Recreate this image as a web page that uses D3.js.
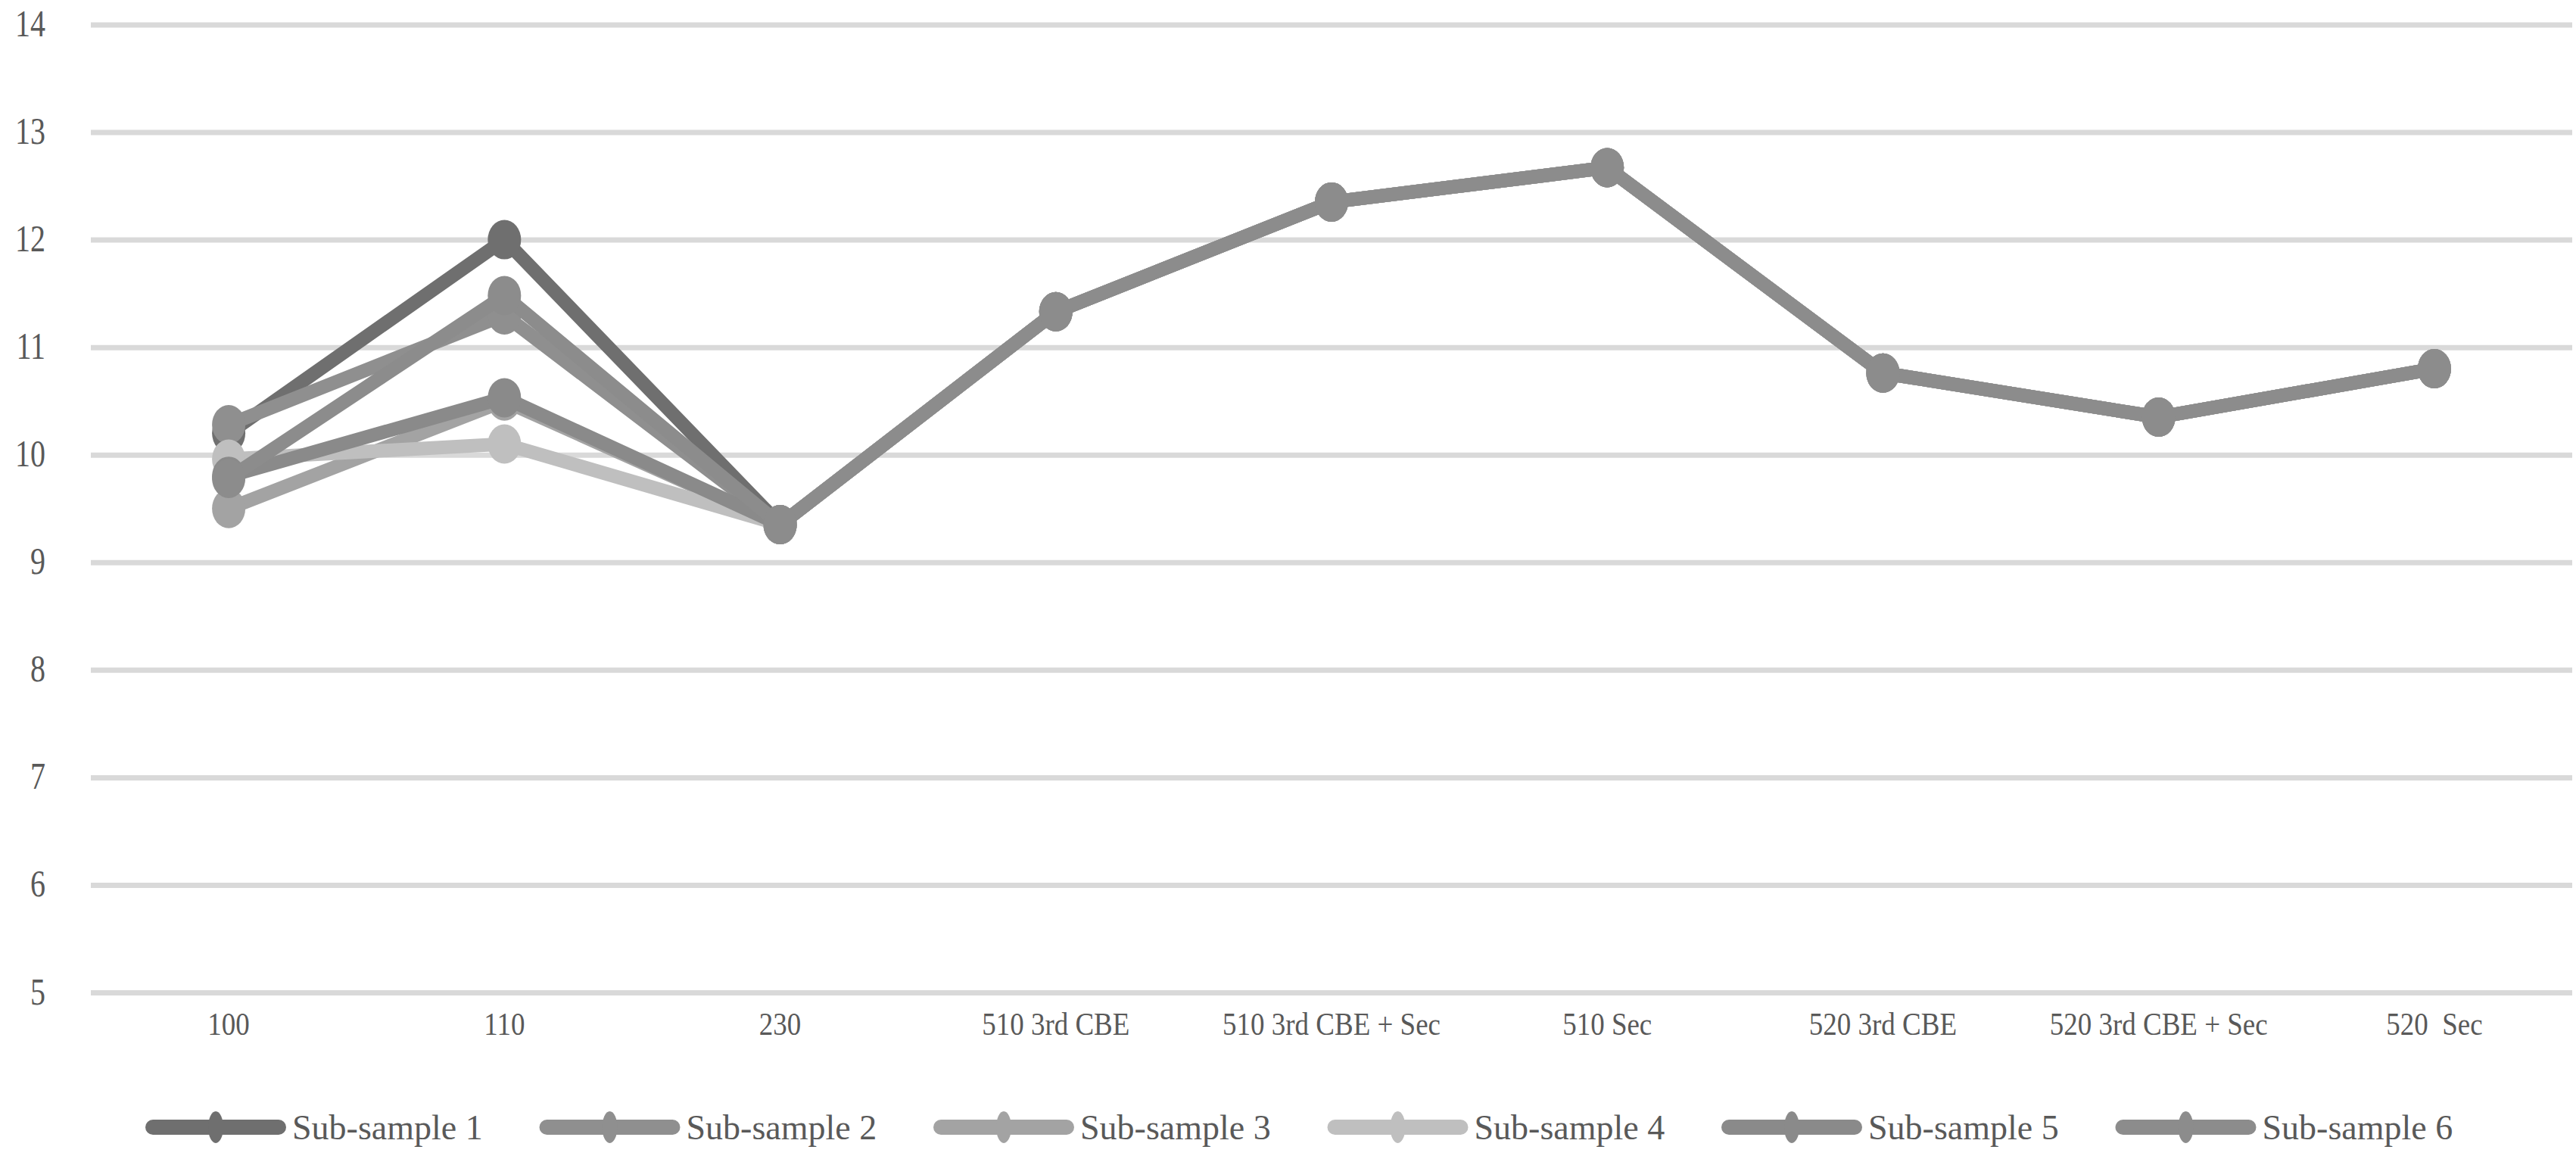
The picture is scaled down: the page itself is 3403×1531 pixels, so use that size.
<!DOCTYPE html>
<html>
<head>
<meta charset="utf-8">
<script src="https://cdn.jsdelivr.net/npm/d3@7"></script>
<style>
  html, body { margin: 0; padding: 0; background: #ffffff; }
  svg { display: block; }
  text { font-family: "Liberation Serif", "Times New Roman", serif; fill: #595959; }
</style>
</head>
<body>
<svg id="chart" width="3403" height="1531"></svg>
<script>
const categories = ["100", "110", "230", "510 3rd CBE", "510 3rd CBE + Sec", "510 Sec", "520 3rd CBE", "520 3rd CBE + Sec", "520  Sec"];
const seriesNames = ["Sub-sample 1", "Sub-sample 2", "Sub-sample 3", "Sub-sample 4", "Sub-sample 5", "Sub-sample 6"];
const sub1 = [10.20, 12.00, 9.35, 11.33, 12.35, 12.67, 10.76, 10.35, 10.80];
const sub2 = [10.28, 11.30, 9.35, 11.33, 12.35, 12.67, 10.76, 10.35, 10.80];
const sub3 = [9.50, 10.50, 9.35, 11.33, 12.35, 12.67, 10.76, 10.35, 10.80];
const sub4 = [9.96, 10.10, 9.35, 11.33, 12.35, 12.67, 10.76, 10.35, 10.80];
const sub5 = [9.80, 10.53, 9.35, 11.33, 12.35, 12.67, 10.76, 10.35, 10.80];
const sub6 = [9.78, 11.48, 9.35, 11.33, 12.35, 12.67, 10.76, 10.35, 10.80];
const seriesColors = ["#6f6f6f", "#8f8f8f", "#a3a3a3", "#bfbfbf", "#8a8a8a", "#8c8c8c"];
const yTicks = [5, 6, 7, 8, 9, 10, 11, 12, 13, 14];

const seriesValues = [sub1, sub2, sub3, sub4, sub5, sub6];
const series = seriesNames.map((name, i) => ({ name, color: seriesColors[i], values: seriesValues[i] }));

const svg = d3.select("#chart");
const plot = { left: 120, right: 3398, top: 32.5, bottom: 1311 };

const x = d3.scaleBand().domain(categories).range([plot.left, plot.right]).padding(0);
const y = d3.scaleLinear().domain([5, 14]).range([plot.bottom, plot.top]);
const cx = c => x(c) + x.bandwidth() / 2;

// gridlines
const grid = svg.append("g")
  .attr("transform", `translate(${plot.left},0)`)
  .call(d3.axisLeft(y).tickValues(yTicks).tickSize(-(plot.right - plot.left)).tickFormat(""));
grid.select(".domain").remove();
grid.selectAll(".tick line").attr("stroke", "#d9d9d9").attr("stroke-width", 7);

// y labels
const yAxis = svg.append("g")
  .attr("transform", `translate(60,0)`)
  .call(d3.axisLeft(y).tickValues(yTicks).tickSize(0).tickPadding(0).tickFormat(d3.format("d")));
yAxis.select(".domain").remove();
yAxis.selectAll("text")
  .attr("font-size", 40)
  .attr("fill", "#595959")
  .attr("font-family", "Liberation Serif, serif")
  .attr("dy", "0.3em")
  .attr("transform", "scale(1,1.25)");

// x labels
const xAxis = svg.append("g")
  .attr("transform", `translate(0,${1352})`)
  .call(d3.axisBottom(x).tickSize(0).tickPadding(0));
xAxis.select(".domain").remove();
xAxis.selectAll("text")
  .attr("font-size", 37)
  .attr("fill", "#595959")
  .attr("font-family", "Liberation Serif, serif")
  .attr("dy", "0.35em")
  .style("white-space", "pre")
  .attr("transform", "scale(1,1.15)");

// lines
const line = d3.line()
  .x((d, i) => cx(categories[i]))
  .y(d => y(d));

const sg = svg.append("g");
series.forEach(s => {
  const g = sg.append("g");
  g.append("path")
    .datum(s.values)
    .attr("d", line)
    .attr("fill", "none")
    .attr("stroke", s.color)
    .attr("stroke-width", 18)
    .attr("stroke-linejoin", "round")
    .attr("stroke-linecap", "round");
  g.selectAll("ellipse")
    .data(s.values)
    .join("ellipse")
    .attr("cx", (d, i) => cx(categories[i]))
    .attr("cy", d => y(d))
    .attr("rx", 22)
    .attr("ry", 26)
    .attr("fill", s.color);
});

// legend
const legendY = 1489;
const legendStart = 202;
const legendStep = 520.5;
const leg = svg.append("g");
series.forEach((s, i) => {
  const x0 = legendStart + i * legendStep;
  const g = leg.append("g").attr("transform", `translate(${x0},${legendY})`);
  g.append("line")
    .attr("x1", 0).attr("x2", 166).attr("y1", 0).attr("y2", 0)
    .attr("stroke", s.color).attr("stroke-width", 20).attr("stroke-linecap", "round");
  g.append("ellipse")
    .attr("cx", 83).attr("cy", 0).attr("rx", 10).attr("ry", 21)
    .attr("fill", s.color);
  g.append("text")
    .attr("x", 184).attr("y", 0)
    .attr("dy", "0.35em")
    .attr("font-size", 46)
    .attr("fill", "#595959")
    .text(s.name);
});
</script>
</body>
</html>
